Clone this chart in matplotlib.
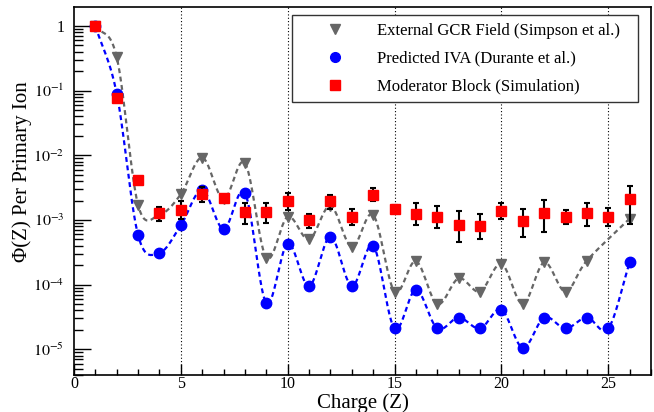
import numpy as np
import matplotlib
matplotlib.use("Agg")
import matplotlib.pyplot as plt
from matplotlib.lines import Line2D
from matplotlib.ticker import FixedLocator, LogLocator, NullFormatter

plt.rcParams['font.family'] = ['Liberation Serif', 'DejaVu Serif']
plt.rcParams['mathtext.fontset'] = 'stix'

# External GCR field (Simpson et al.) - no point at Z=25
gcr_z = [1, 2, 3, 4, 5, 6, 7, 8, 9, 10, 11, 12, 13, 14, 15, 16, 17, 18, 19, 20, 21, 22, 23, 24, 26]
gcr_phi = [1.0, 0.33, 1.7e-3, 1.2e-3, 2.5e-3, 9.2e-3, 2.1e-3, 7.6e-3, 2.6e-4, 1.12e-3, 5.0e-4,
           1.65e-3, 3.8e-4, 1.2e-3, 7.8e-5, 2.3e-4, 5.0e-5, 1.25e-4, 7.8e-5, 2.1e-4, 5.0e-5,
           2.2e-4, 7.8e-5, 2.35e-4, 1.05e-3]

# Predicted IVA (Durante et al.)
iva_z = list(range(1, 27))
iva_phi = [1.0, 0.09, 5.8e-4, 3.1e-4, 8.3e-4, 2.9e-3, 7.2e-4, 2.6e-3, 5.2e-5, 4.3e-4, 9.5e-5,
           5.5e-4, 9.5e-5, 4.0e-4, 2.1e-5, 8.3e-5, 2.1e-5, 3.1e-5, 2.1e-5, 4.1e-5, 1.05e-5,
           3.1e-5, 2.1e-5, 3.1e-5, 2.1e-5, 2.2e-4]

# Moderator block (simulation) with asymmetric error bars
mod_z = list(range(1, 27))
mod_phi = [1.0, 0.078, 4.2e-3, 1.28e-3, 1.42e-3, 2.55e-3, 2.15e-3, 1.32e-3, 1.33e-3, 1.95e-3,
           1.0e-3, 1.95e-3, 1.12e-3, 2.45e-3, 1.5e-3, 1.25e-3, 1.13e-3, 8.5e-4, 8.2e-4, 1.38e-3,
           9.8e-4, 1.3e-3, 1.1e-3, 1.3e-3, 1.12e-3, 2.1e-3]
mod_lo = [1.0, 0.078, 4.2e-3, 9.6e-4, 1.03e-3, 1.9e-3, 1.95e-3, 8.8e-4, 9.0e-4, 1.45e-3,
          7.5e-4, 1.5e-3, 8.3e-4, 1.95e-3, 1.35e-3, 8.5e-4, 7.6e-4, 4.5e-4, 5.0e-4, 1.05e-3,
          5.5e-4, 6.5e-4, 8.8e-4, 8.0e-4, 8.2e-4, 8.6e-4]
mod_hi = [1.0, 0.078, 4.2e-3, 1.6e-3, 1.95e-3, 3.2e-3, 2.35e-3, 1.8e-3, 1.8e-3, 2.6e-3,
          1.25e-3, 2.4e-3, 1.5e-3, 3.1e-3, 1.7e-3, 1.8e-3, 1.65e-3, 1.4e-3, 1.25e-3, 1.85e-3,
          1.5e-3, 2.05e-3, 1.45e-3, 1.85e-3, 1.55e-3, 3.4e-3]

labels = ['External GCR Field (Simpson et al.)', 'Predicted IVA (Durante et al.)',
          'Moderator Block (Simulation)']


def smooth(x, y, n=24):
    # Catmull-Rom curve through the points in (x, log10 y) space
    p = np.column_stack([np.asarray(x, float), np.log10(y)])
    p = np.vstack([2 * p[0] - p[1], p, 2 * p[-1] - p[-2]])
    out = []
    t = np.linspace(0, 1, n, endpoint=False)[:, None]
    for i in range(1, len(p) - 2):
        p0, p1, p2, p3 = p[i - 1], p[i], p[i + 1], p[i + 2]
        m1 = (p2 - p0) / 2
        m2 = (p3 - p1) / 2
        h00 = 2 * t**3 - 3 * t**2 + 1
        h10 = t**3 - 2 * t**2 + t
        h01 = -2 * t**3 + 3 * t**2
        h11 = t**3 - t**2
        out.append(h00 * p1 + h10 * m1 + h01 * p2 + h11 * m2)
    out.append(p[-2][None, :])
    c = np.vstack(out)
    return c[:, 0], 10 ** c[:, 1]


fig = plt.figure(figsize=(6.54, 4.12), dpi=100)
ax = fig.add_axes([74 / 654, 37 / 412, 577 / 654, 368 / 412])

for xv in [5, 10, 15, 20, 25]:
    ax.axvline(xv, color='black', lw=0.8, ls=(0, (1, 2)), zorder=1)

gx, gy = smooth(gcr_z, gcr_phi)
ax.plot(gx, gy, color='#666666', lw=1.6, ls=(0, (2.2, 1.6)), zorder=2)
bx, by = smooth(iva_z, iva_phi)
ax.plot(bx, by, color='#0000ff', lw=1.6, ls=(0, (2.2, 1.6)), zorder=2)

ax.plot(gcr_z, gcr_phi, ls='none', marker='v', ms=7, color='#666666', zorder=3)
ax.plot(iva_z, iva_phi, ls='none', marker='o', ms=7.5, color='#0000ff', zorder=4)

mod_phi_a = np.array(mod_phi)
yerr = [mod_phi_a - np.array(mod_lo), np.array(mod_hi) - mod_phi_a]
ax.errorbar(mod_z, mod_phi, yerr=yerr, fmt='none', ecolor='black', elinewidth=1.5,
            capsize=2.5, capthick=1.5, zorder=5)
ax.plot(mod_z, mod_phi, ls='none', marker='s', ms=7, color='#ff0000', zorder=6)

ax.set_yscale('log')
ax.set_xlim(0, 27)
ax.set_ylim(4e-6, 1.97)

ax.xaxis.set_major_locator(FixedLocator([0, 5, 10, 15, 20, 25]))
ax.xaxis.set_minor_locator(FixedLocator(range(0, 28)))
ax.yaxis.set_major_locator(FixedLocator([1e-5, 1e-4, 1e-3, 1e-2, 1e-1, 1]))
ax.set_yticklabels(['$10^{-5}$', '$10^{-4}$', '$10^{-3}$', '$10^{-2}$', '$10^{-1}$', '1'])
ax.yaxis.set_minor_locator(LogLocator(base=10, subs=np.arange(2, 10)))
ax.yaxis.set_minor_formatter(NullFormatter())

ax.tick_params(axis='both', which='both', direction='in', top=False, right=False,
               labelsize=11.5, color='black')
ax.tick_params(axis='x', which='major', length=8, width=1, pad=1)
ax.tick_params(axis='x', which='minor', length=4, width=1)
ax.tick_params(axis='y', which='major', length=12.5, width=1, pad=7)
ax.tick_params(axis='y', which='minor', length=6.5, width=1)
for s in ax.spines.values():
    s.set_linewidth(1.2)

ax.set_xlabel('Charge (Z)', fontsize=15, va='center')
ax.xaxis.set_label_coords(0.5, -0.077)
ax.set_ylabel('Φ(Z) Per Primary Ion', fontsize=15, va='center')
ax.yaxis.set_label_coords(-0.09, 0.554)

handles = [Line2D([], [], ls='none', marker='v', ms=7, color='#666666'),
           Line2D([], [], ls='none', marker='o', ms=7, color='#0000ff'),
           Line2D([], [], ls='none', marker='s', ms=7, color='#ff0000')]
leg = ax.legend(handles, labels, loc='upper left', bbox_to_anchor=(0.378, 0.0, 0.600, 0.978),
                mode='expand', fontsize=12, frameon=True, fancybox=False, framealpha=1,
                edgecolor='#333333', borderpad=0.45, handlelength=4.2, handletextpad=0.45,
                labelspacing=0.72, borderaxespad=0)
leg.get_frame().set_linewidth(1.0)

fig.savefig('out.png', dpi=100)
